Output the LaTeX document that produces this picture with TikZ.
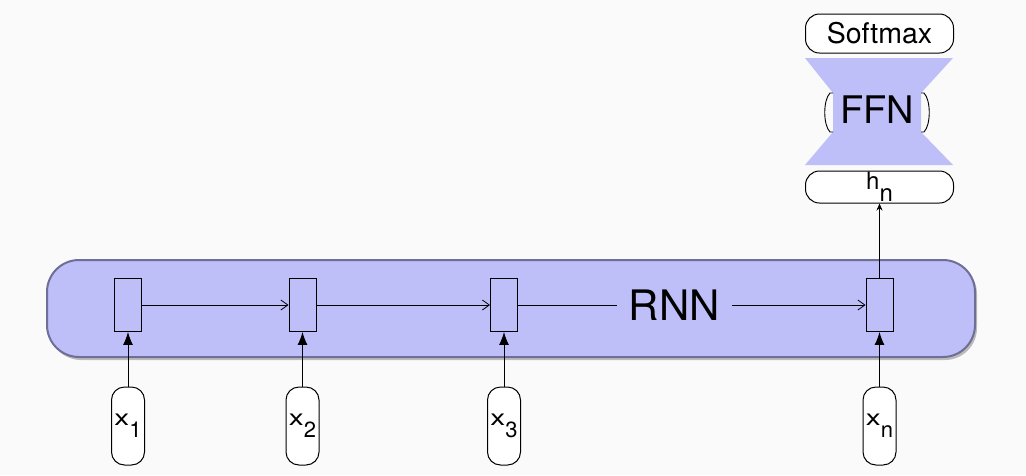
\documentclass[tikz,border=0pt]{standalone}
\usepackage{fontspec}
\setmainfont{TeX Gyre Heros}
\usetikzlibrary{arrows.meta}
\definecolor{rnnfill}{RGB}{190,190,248}
\definecolor{rnnline}{RGB}{110,110,150}
\definecolor{bggray}{RGB}{250,250,250}
\newcommand\sub[2]{#1\raisebox{-12pt}{#2}}
\newcommand\xin[1]{\scalebox{1.35}[1]{x}\raisebox{-12pt}{#1}}

\tikzset{
  cell/.style={draw,fill=rnnfill,line width=0.9pt,minimum width=27pt,minimum height=53pt,inner sep=0pt},
  inbox/.style={draw,fill=white,rounded corners=13pt,line width=1pt,minimum width=33pt,minimum height=78pt,inner sep=0pt,font=\fontsize{22}{22}\selectfont},
  outbox/.style={draw,fill=white,rounded corners=14pt,line width=1pt,minimum width=148pt,inner sep=0pt},
  flow/.style={line width=0.8pt,-{Straight Barb[length=7pt,width=10pt]}},
  feed/.style={line width=1pt,-{Latex[length=13pt,width=10pt]}}
}

\begin{document}
\begin{tikzpicture}[x=1pt,y=-1pt]
\useasboundingbox (0,0) rectangle (1026,475);
\fill[bggray] (0,0) rectangle (1026,475);

% RNN block
\fill[black,opacity=0.25,rounded corners=32pt] (49,262) rectangle (977,360);
\draw[rnnline,fill=rnnfill,line width=2pt,rounded corners=32pt] (47,260) rectangle (975,357);

\node[cell] (c1) at (128,305) {};
\node[cell] (c2) at (302.5,305) {};
\node[cell] (c3) at (504,305) {};
\node[cell] (cn) at (879.5,305) {};

\draw[flow] (c1) -- (c2);
\draw[flow] (c2) -- (c3);
\draw[flow] (c3) -- node[pos=0.45,fill=rnnfill,inner xsep=12pt,inner ysep=2pt,
  font=\fontsize{42}{42}\selectfont] (rnnlabel) {RNN} (cn);

% inputs
\node[inbox] (x1) at (128,426) {\xin{1}};
\node[inbox] (x2) at (302.5,426) {\xin{2}};
\node[inbox] (x3) at (504,426) {\xin{3}};
\node[inbox] (xn) at (879.5,426) {\xin{n}};

\draw[feed] (x1) -- (c1);
\draw[feed] (x2) -- (c2);
\draw[feed] (x3) -- (c3);
\draw[feed] (xn) -- (cn);

% classifier head
\node[outbox,minimum height=32pt,font=\fontsize{24}{24}\selectfont] (hn) at (879.5,187) {\sub{h}{n}};
\node[outbox,minimum height=39pt,font=\fontsize{28.5}{28.5}\selectfont] (soft) at (879.5,33.5) {Softmax};

\fill[rnnfill] (805,58) -- (953,58) -- (921,93) -- (921,132) -- (953,165)
  -- (805,165) -- (833,132) -- (833,93) -- cycle;
\draw[line width=0.9pt] (833,93) -- (830,93) .. controls (823,100) and (823,125) .. (830,132) -- (833,132);
\draw[line width=0.9pt] (921,93) -- (924,93) .. controls (931,100) and (931,125) .. (924,132) -- (921,132);
\node[font=\fontsize{38}{38}\selectfont,inner sep=0pt] (ffn) at (877,110) {FFN};

\draw[line width=0.8pt,-{Stealth[length=7pt,width=6pt]}] (cn) -- (hn);
\end{tikzpicture}
\end{document}
